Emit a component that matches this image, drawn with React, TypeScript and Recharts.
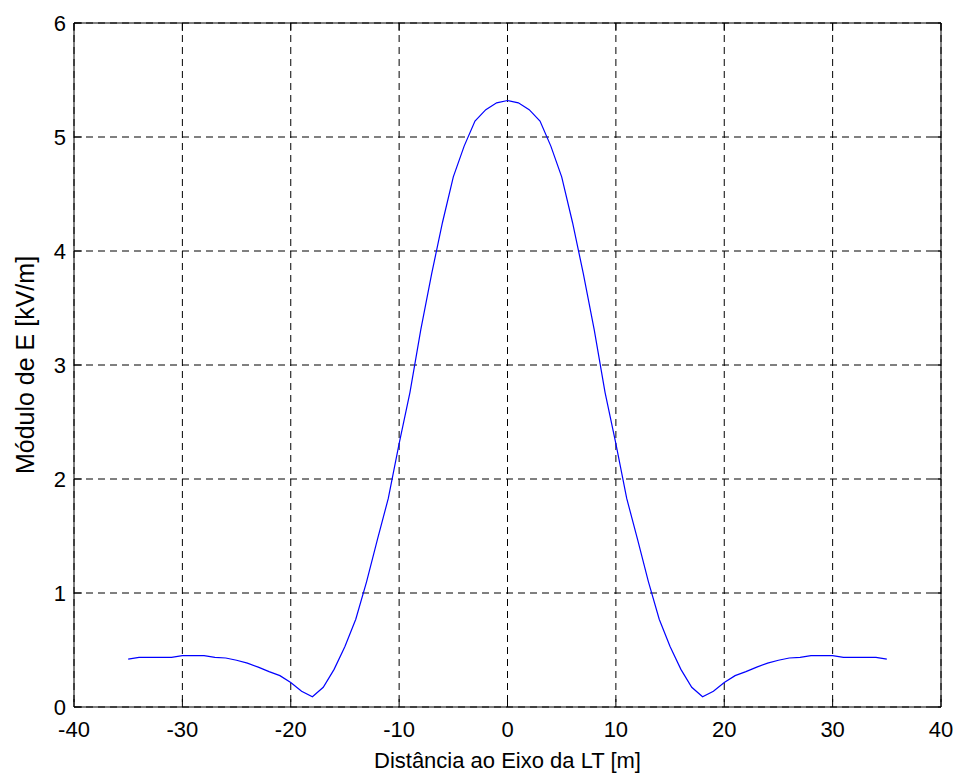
import React from "react";
import {
  LineChart,
  Line,
  XAxis,
  YAxis,
  CartesianGrid,
  ReferenceArea,
} from "recharts";

// ── Data: electric field modulus along the transversal profile ─────────────

const distances = [
  -35, -34, -33, -32, -31, -30, -29, -28, -27, -26, -25, -24, -23, -22, -21,
  -20, -19, -18, -17, -16, -15, -14, -13, -12, -11, -10, -9, -8, -7, -6, -5,
  -4, -3, -2, -1, 0, 1, 2, 3, 4, 5, 6, 7, 8, 9, 10, 11, 12, 13, 14, 15, 16,
  17, 18, 19, 20, 21, 22, 23, 24, 25, 26, 27, 28, 29, 30, 31, 32, 33, 34, 35,
];

const fieldKvPerM = [
  0.42, 0.436, 0.436, 0.436, 0.436, 0.45, 0.45, 0.45, 0.436, 0.43, 0.41,
  0.385, 0.35, 0.31, 0.275, 0.214, 0.138, 0.09, 0.173, 0.33, 0.53, 0.77, 1.1,
  1.47, 1.83, 2.31, 2.76, 3.31, 3.8, 4.25, 4.65, 4.92, 5.14, 5.24, 5.3, 5.32,
  5.3, 5.24, 5.14, 4.92, 4.65, 4.25, 3.8, 3.31, 2.76, 2.31, 1.83, 1.47, 1.1,
  0.77, 0.53, 0.33, 0.173, 0.09, 0.138, 0.214, 0.275, 0.31, 0.35, 0.385,
  0.41, 0.43, 0.436, 0.45, 0.45, 0.45, 0.436, 0.436, 0.436, 0.436, 0.42,
];

const xTicks = [-40, -30, -20, -10, 0, 10, 20, 30, 40];
const yTicks = [0, 1, 2, 3, 4, 5, 6];

const chartData = distances.map((x, i) => ({ x, e: fieldKvPerM[i] }));

// ── Layout ─────────────────────────────────────────────────────────────────

const WIDTH = 959;
const HEIGHT = 775;
const PLOT_LEFT = 74;
const PLOT_RIGHT = 941;
const PLOT_TOP = 23;
const PLOT_BOTTOM = 707;
const TICK_LEN = 8;
const FONT = "'Liberation Sans', Arial, sans-serif";
const FONT_SIZE = 22;

// ticks point inwards on both sides of the box, like a boxed plot
function XTick(props: any) {
  const { x, payload } = props;
  return (
    <g>
      <line x1={x} x2={x} y1={PLOT_BOTTOM} y2={PLOT_BOTTOM - TICK_LEN} stroke="#000" />
      <line x1={x} x2={x} y1={PLOT_TOP} y2={PLOT_TOP + TICK_LEN} stroke="#000" />
      <text
        x={x}
        y={PLOT_BOTTOM + 30}
        textAnchor="middle"
        fill="#000"
        fontSize={FONT_SIZE}
        fontFamily={FONT}
      >
        {payload.value}
      </text>
    </g>
  );
}

function YTick(props: any) {
  const { y, payload } = props;
  return (
    <g>
      <line x1={PLOT_LEFT} x2={PLOT_LEFT + TICK_LEN} y1={y} y2={y} stroke="#000" />
      <line x1={PLOT_RIGHT} x2={PLOT_RIGHT - TICK_LEN} y1={y} y2={y} stroke="#000" />
      <text
        x={PLOT_LEFT - 8}
        y={y}
        dy="0.36em"
        textAnchor="end"
        fill="#000"
        fontSize={FONT_SIZE}
        fontFamily={FONT}
      >
        {payload.value}
      </text>
    </g>
  );
}

export default function App() {
  return (
    <div style={{ position: "absolute", left: 0, top: 0, background: "#fff" }}>
      <LineChart
        width={WIDTH}
        height={HEIGHT}
        data={chartData}
        margin={{ top: PLOT_TOP, right: WIDTH - PLOT_RIGHT, bottom: 0, left: 0 }}
        style={{ fontFamily: FONT }}
      >
        <CartesianGrid stroke="#000" strokeDasharray="7 5" />
        <XAxis
          dataKey="x"
          type="number"
          domain={[-40, 40]}
          ticks={xTicks}
          height={HEIGHT - PLOT_BOTTOM}
          axisLine={false}
          tickLine={false}
          tick={<XTick />}
          label={{
            value: "Distância ao Eixo da LT [m]",
            position: "insideBottom",
            offset: 7,
            fill: "#000",
            fontSize: FONT_SIZE,
            fontFamily: FONT,
          }}
        />
        <YAxis
          type="number"
          domain={[0, 6]}
          ticks={yTicks}
          width={PLOT_LEFT}
          axisLine={false}
          tickLine={false}
          tick={<YTick />}
          label={{
            value: "Módulo de E [kV/m]",
            angle: -90,
            position: "insideLeft",
            offset: 25,
            fill: "#000",
            fontSize: 25,
            fontFamily: FONT,
            style: { textAnchor: "middle" },
          }}
        />
        <ReferenceArea
          x1={-40}
          x2={40}
          y1={0}
          y2={6}
          fill="none"
          stroke="#000"
          strokeWidth={1}
          ifOverflow="visible"
        />
        <Line
          type="linear"
          dataKey="e"
          stroke="#0000ff"
          strokeWidth={1.2}
          dot={false}
          isAnimationActive={false}
        />
      </LineChart>
    </div>
  );
}
